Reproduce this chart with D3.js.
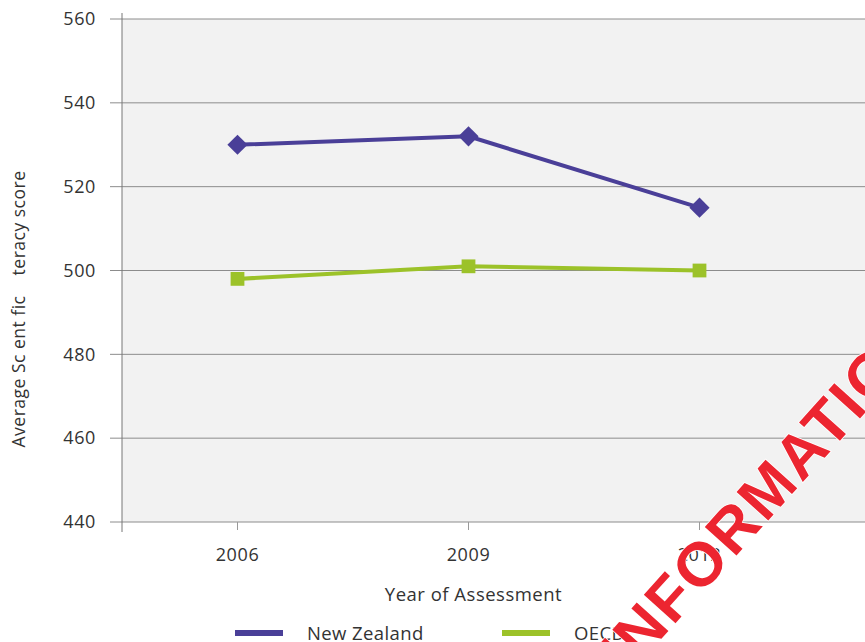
<!DOCTYPE html>
<html>
<head>
<meta charset="utf-8">
<script src="https://cdn.jsdelivr.net/npm/d3@7"></script>
<style>
  body { margin: 0; background: #fff; }
  svg text { font-family: "Open Sans", "Noto Sans", sans-serif; }
</style>
</head>
<body>
<svg id="chart" width="865" height="642"></svg>
<script>
// data
const years = ["2006", "2009", "2012"];
const nzScores = [530, 532, 515];
const oecdScores = [498, 501, 500];
const yTicks = [440, 460, 480, 500, 520, 540, 560];

const series = [
    { name: "New Zealand", values: nzScores, color: "#4a3f98", shape: d3.symbolDiamond2 },
    { name: "OECD", values: oecdScores, color: "#9cc229", shape: d3.symbolSquare }
];

const W = 865, H = 642;
const plotLeft = 122, plotTop = 19, plotBottom = 522;
const bandW = 231;
const txt = "#333";

const svg = d3.select("#chart");

const x = d3.scaleBand()
    .domain(years)
    .range([plotLeft, plotLeft + bandW * years.length]);
const y = d3.scaleLinear()
    .domain([440, 560])
    .range([plotBottom, plotTop]);

// plot background
svg.append("rect")
    .attr("x", plotLeft).attr("y", plotTop)
    .attr("width", W - plotLeft).attr("height", plotBottom - plotTop)
    .attr("fill", "#f2f2f2");

// gridlines
svg.append("g")
    .selectAll("line")
    .data(yTicks)
    .join("line")
    .attr("x1", plotLeft - 12).attr("x2", W)
    .attr("y1", d => y(d)).attr("y2", d => y(d))
    .attr("stroke", "#8c8c8c")
    .attr("stroke-width", 1);

// y axis
const yAxis = d3.axisLeft(y).tickValues(yTicks).tickSize(0).tickPadding(26);
const gy = svg.append("g")
    .attr("transform", "translate(" + plotLeft + ",0)")
    .call(yAxis);
gy.select(".domain").remove();
gy.selectAll("text")
    .style("font-size", "18px")
    .style("letter-spacing", "0.6px")
    .style("fill", txt);
svg.append("line")
    .attr("x1", plotLeft).attr("x2", plotLeft)
    .attr("y1", plotTop - 6).attr("y2", plotBottom + 10)
    .attr("stroke", "#777");

// x axis
const xAxis = d3.axisBottom(x).tickSize(8).tickPadding(18);
const gx = svg.append("g")
    .attr("transform", "translate(0," + plotBottom + ")")
    .call(xAxis);
gx.select(".domain").remove();
gx.selectAll("line").attr("stroke", "#999");
gx.selectAll("text")
    .style("font-size", "18px")
    .style("letter-spacing", "0.6px")
    .style("fill", txt);

// axis titles
svg.append("text")
    .attr("x", x("2009") + x.bandwidth() / 2 + 5)
    .attr("y", 601)
    .attr("text-anchor", "middle")
    .style("font-size", "18.5px")
    .style("letter-spacing", "0.5px")
    .style("fill", txt)
    .text("Year of Assessment");

svg.append("text")
    .attr("transform", "translate(25,309) rotate(-90)")
    .attr("text-anchor", "middle")
    .style("font-size", "17.5px")
    .style("letter-spacing", "0.5px")
    .style("white-space", "pre")
    .style("fill", txt)
    .text("Average Sc ent fic    teracy score");

// lines + markers
const line = d3.line()
    .x((d, i) => x(years[i]) + x.bandwidth() / 2)
    .y(d => y(d));

series.forEach(s => {
    svg.append("path")
        .datum(s.values)
        .attr("d", line)
        .attr("fill", "none")
        .attr("stroke", s.color)
        .attr("stroke-width", 4);
    svg.append("g")
        .selectAll("path")
        .data(s.values)
        .join("path")
        .attr("transform", (d, i) => "translate(" + (x(years[i]) + x.bandwidth() / 2) + "," + y(d) + ")")
        .attr("d", d3.symbol().type(s.shape).size(s.shape === d3.symbolSquare ? 190 : 260))
        .attr("fill", s.color);
});

// legend
const legendX = [235, 502];
const lg = svg.append("g")
    .selectAll("g")
    .data(series)
    .join("g")
    .attr("transform", (d, i) => "translate(" + legendX[i] + ",633)");
lg.append("rect")
    .attr("x", 0).attr("y", -3)
    .attr("width", 48).attr("height", 6)
    .attr("fill", d => d.color);
lg.append("text")
    .attr("x", 72).attr("y", 7)
    .style("font-size", "18.5px")
    .style("letter-spacing", "0.4px")
    .style("fill", txt)
    .text(d => d.name);

// red stamp across the lower right
svg.append("text")
    .attr("transform", "translate(628,676) rotate(-48)")
    .style("font-family", "'Liberation Sans Narrow', 'Liberation Sans', Arial, sans-serif")
    .style("font-weight", "bold")
    .style("font-size", "62px")
    .style("letter-spacing", "2.5px")
    .style("fill", "#ec2530")
    .style("stroke", "#fff")
    .style("stroke-width", "1.5px")
    .style("paint-order", "stroke")
    .text("INFORMATION ACT");
</script>
</body>
</html>
